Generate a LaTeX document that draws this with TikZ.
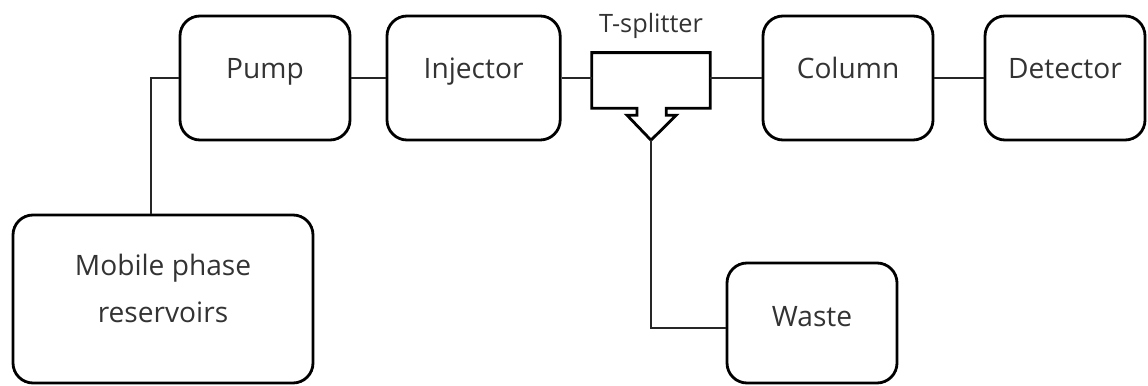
\documentclass[tikz,border=0pt]{standalone}
\usepackage{fontspec}
\setmainfont{Open Sans}
\usetikzlibrary{positioning,calc}

\begin{document}
\begin{tikzpicture}[
  unit/.style={rectangle,draw,line width=2pt,rounded corners=0.5cm,minimum width=#1,minimum height=3.1cm,align=center,font=\fontsize{20}{34}\selectfont,text=black!80,text height=0.5cm,text depth=0.45cm},
  pipe/.style={line width=0.9pt,black!85},
  splitbody/.style={line width=2pt,line join=miter},
  lab/.style={font=\fontsize{18}{20}\selectfont,text=black!80},
]
\useasboundingbox (0,0) rectangle (28.7,9.65);

% === MAIN LINE ===
\node[unit=4.25cm] (pump) at (6.625,7.7)  {Pump};
\node[unit=4.33cm] (inj)  at (11.84,7.7)  {Injector};
\node[unit=4.25cm] (col)  at (21.2,7.7)   {Column};
\node[unit=4.0cm]  (det)  at (26.625,7.7) {Detector};

% === T-SPLITTER ===
\node[minimum width=2.95cm,minimum height=1.375cm,inner sep=0pt] (split) at (16.275,7.64) {};
\node[lab,above=0.5cm of split.north,anchor=base] (splitlab) {T-splitter};
\coordinate (tip) at ($(split.south)+(0,-0.8)$);
\draw[splitbody] (split.south west) -- (split.north west) -- (split.north east) -- (split.south east)
  -- ++(-1.1,0) -- ++(0,-0.175) -- ++(0.25,0) -- (tip) -- ++(-0.6,0.625) -- ++(0.25,0) -- ++(0,0.175) -- cycle;

% === SIDE BOXES ===
\node[unit=7.5cm,minimum height=4.2cm,text height=1.2cm,text depth=0cm] (res) at (4.075,2.175) {Mobile phase\\reservoirs};
\node[unit=4.25cm,minimum height=3.0cm,text depth=0.32cm] (waste) at (20.3,1.575) {Waste};

% connectors
\draw[pipe] (pump.east) -- (inj.west);
\draw[pipe] (inj.east) -- (inj.east -| split.west);
\draw[pipe] (split.east |- col.west) -- (col.west);
\draw[pipe] (col.east) -- (det.west);
\draw[pipe] ($(res.north west)!0.46!(res.north east)$) |- (pump.west);
\draw[pipe] (tip) |- ($(waste.west)+(0,-0.125)$);

\end{tikzpicture}
\end{document}
